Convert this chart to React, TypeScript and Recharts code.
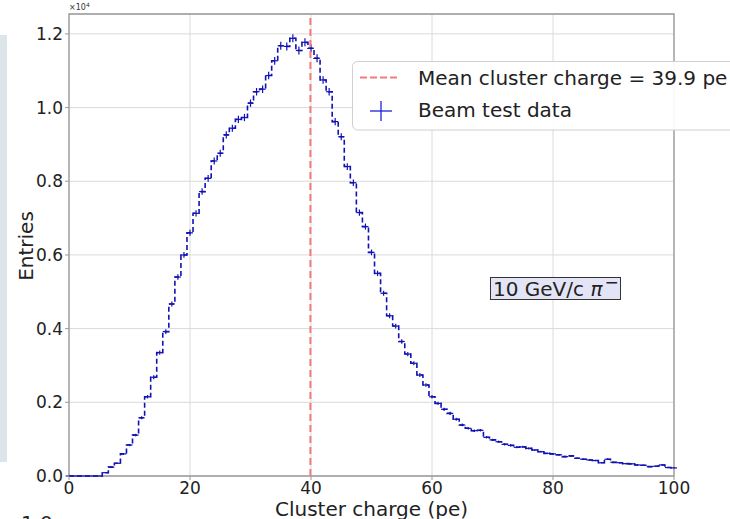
import React from "react";
import {
  ComposedChart,
  Line,
  Scatter,
  ErrorBar,
  XAxis,
  YAxis,
  CartesianGrid,
  ReferenceLine,
  ReferenceArea,
} from "recharts";

// entries per 1 pe bin, bin centres at 0, 1, 2 ... 100 pe
const COUNTS = [
  0, 0, 0, 0, 0, 0, 90, 240, 345, 600,
  840, 1110, 1580, 2150, 2680, 3350, 3920, 4670, 5400, 6000,
  6600, 7130, 7720, 8080, 8550, 8760, 9260, 9440, 9680, 9730,
  10120, 10430, 10500, 10870, 11270, 11680, 11660, 11880, 11550, 11770,
  11610, 11340, 10750, 10430, 9620, 9210, 8400, 7960, 7150, 6770,
  6070, 5500, 4960, 4350, 4070, 3650, 3310, 3060, 2740, 2470,
  2150, 1970, 1810, 1700, 1540, 1385, 1295, 1230, 1240, 1050,
  980, 930, 860, 830, 780, 790, 750, 705, 660, 615,
  600, 575, 525, 545, 480, 455, 435, 420, 360, 455,
  370, 360, 335, 330, 300, 290, 255, 265, 300, 230,
  220,
];
const BIN_WIDTH = 1;
const X_TICKS = [0, 20, 40, 60, 80, 100];
const Y_TICKS = [0, 2000, 4000, 6000, 8000, 10000, 12000];
const MEAN_CHARGE = 39.9;
const Y_MAX = 12540;

const FONT = "DejaVu Sans";
const DATA_BLUE = "#1212b4";
const MEAN_RED = "#f47a7a";

const data = COUNTS.map((c, i) => ({
  x: i * BIN_WIDTH,
  count: c,
  ex: BIN_WIDTH / 2,
  ey: Math.sqrt(c),
}));

const tickStyle = { fontFamily: FONT, fontSize: 17, fill: "#222" };

export default function App() {
  return (
    <div
      style={{
        position: "absolute",
        left: 0,
        top: 0,
        width: 730,
        height: 519,
        overflow: "hidden",
        background: "#fff",
      }}
    >
      <ComposedChart
        width={730}
        height={519}
        data={data}
        margin={{ top: 14, right: 56, bottom: 13, left: 9 }}
      >
        <CartesianGrid stroke="#dadada" strokeWidth={1} />
        <XAxis
          type="number"
          dataKey="x"
          domain={[0, 100]}
          ticks={X_TICKS}
          height={30}
          tickSize={4}
          tickMargin={2}
          axisLine={false}
          tickLine={{ stroke: "#999" }}
          tick={tickStyle}
          allowDataOverflow
        />
        <YAxis
          type="number"
          domain={[0, Y_MAX]}
          ticks={Y_TICKS}
          width={60}
          tickSize={4}
          tickMargin={2}
          axisLine={false}
          tickLine={{ stroke: "#999" }}
          tick={tickStyle}
          tickFormatter={(v: number) => (v / 10000).toFixed(1)}
        />
        {/* plot frame */}
        <ReferenceArea
          x1={0}
          x2={100}
          y1={0}
          y2={Y_MAX}
          fill="none"
          stroke="#999"
          strokeWidth={1.3}
          ifOverflow="visible"
        />
        <Line
          type="step"
          dataKey="count"
          stroke={DATA_BLUE}
          strokeWidth={1.6}
          strokeDasharray="5 3"
          dot={false}
          isAnimationActive={false}
        />
        <Scatter
          dataKey="count"
          shape={() => <g />}
          isAnimationActive={false}
        >
          <ErrorBar dataKey="ex" direction="x" width={0} stroke={DATA_BLUE} strokeWidth={1.2} isAnimationActive={false} />
          <ErrorBar dataKey="ey" direction="y" width={0} stroke={DATA_BLUE} strokeWidth={1.2} isAnimationActive={false} />
        </Scatter>
        <ReferenceLine
          x={MEAN_CHARGE}
          stroke={MEAN_RED}
          strokeWidth={2}
          strokeDasharray="7 4"
        />
      </ComposedChart>

      <svg
        width={730}
        height={519}
        style={{ position: "absolute", left: 0, top: 0, pointerEvents: "none" }}
        fontFamily={FONT}
      >
        {/* neighbouring panel bits from the cropped figure */}
        <rect x={0} y={35} width={7} height={427} fill="#dce5e9" />
        <text x={21} y={530} fontSize={20} fill="#222">1.0</text>

        <text x={69} y={10} fontSize={8} fill="#333">
          ×10<tspan dy={-3} fontSize={6}>4</tspan>
        </text>

        <text
          x={33}
          y={246}
          fontSize={20}
          fill="#222"
          textAnchor="middle"
          transform="rotate(-90 33 246)"
        >
          Entries
        </text>
        <text x={371.5} y={516} fontSize={20} fill="#222" textAnchor="middle">
          Cluster charge (pe)
        </text>

        {/* legend */}
        <rect
          x={352.5}
          y={61.5}
          width={420}
          height={68.5}
          rx={5}
          fill="#fff"
          fillOpacity={0.92}
          stroke="#d0d0d0"
        />
        <line x1={360} x2={400} y1={77.5} y2={77.5} stroke={MEAN_RED} strokeWidth={2} strokeDasharray="7 3" />
        <text x={418} y={85} fontSize={20} fill="#222">
          Mean cluster charge = 39.9 pe
        </text>
        <line x1={370} x2={392} y1={111} y2={111} stroke="#2020d8" strokeWidth={1.3} />
        <line x1={381} x2={381} y1={101} y2={121} stroke="#2020d8" strokeWidth={1.3} />
        <text x={418} y={117} fontSize={20} fill="#222">
          Beam test data
        </text>

        {/* particle annotation */}
        <rect x={490.5} y={277.5} width={130} height={22} fill="#e4e4f7" stroke="#333" strokeWidth={1} />
        <text x={493} y={296} fontSize={20} fill="#222">
          10 GeV/c <tspan fontStyle="italic">π</tspan>
          <tspan dx={2} dy={-8} fontSize={17}>−</tspan>
        </text>
      </svg>
    </div>
  );
}
